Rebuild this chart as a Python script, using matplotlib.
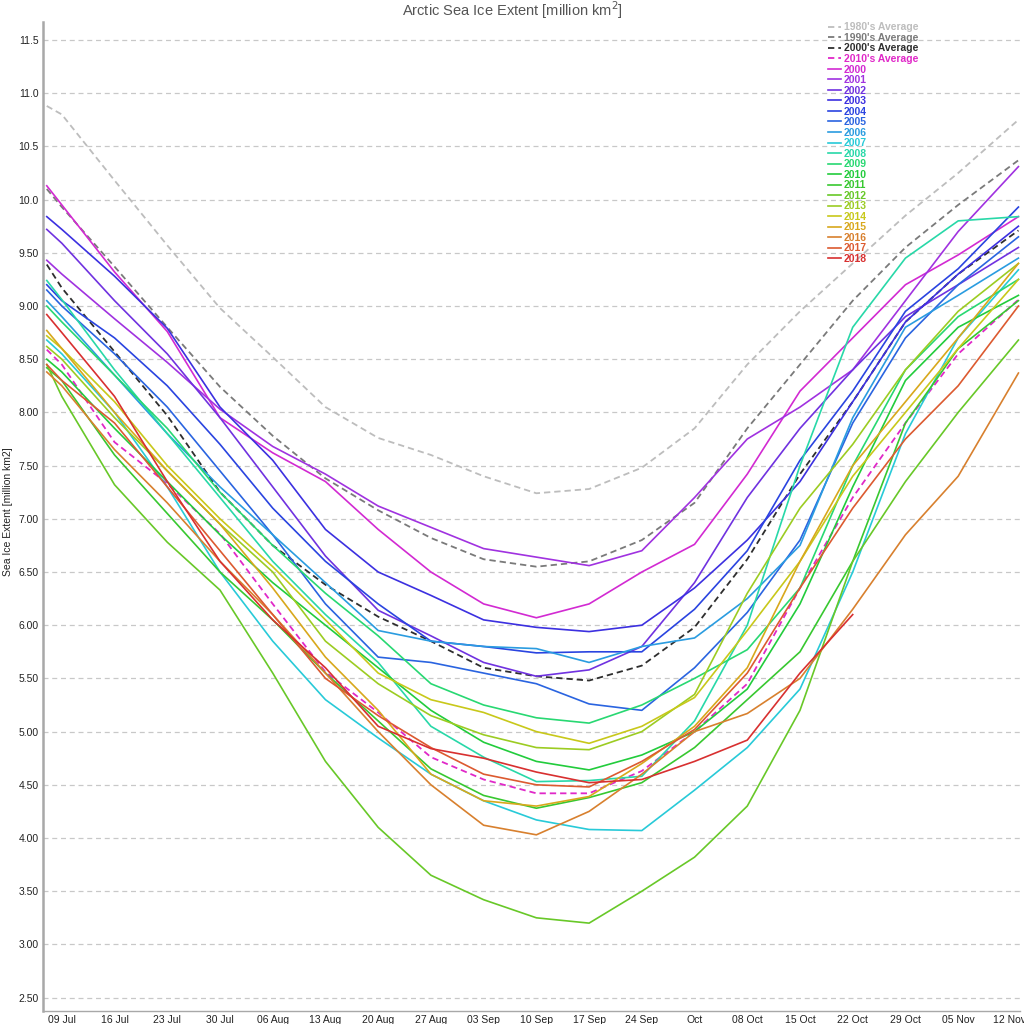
import numpy as np
import pandas as pd
import matplotlib
matplotlib.use('Agg')
import matplotlib.pyplot as plt
import matplotlib.transforms as mtransforms

plt.rcParams['font.family'] = ['Liberation Sans', 'DejaVu Sans']

# sample dates (weekly)
dates = pd.to_datetime(['2018-07-07', '2018-07-09', '2018-07-16', '2018-07-23', '2018-07-30',
                        '2018-08-06', '2018-08-13', '2018-08-20', '2018-08-27', '2018-09-03',
                        '2018-09-10', '2018-09-17', '2018-09-24', '2018-10-01', '2018-10-08',
                        '2018-10-15', '2018-10-22', '2018-10-29', '2018-11-05', '2018-11-13'])

avg1980 = [10.88, 10.80, 10.18, 9.57, 8.98, 8.52, 8.05, 7.76, 7.60, 7.40, 7.24, 7.28, 7.48, 7.85, 8.45, 8.95, 9.40, 9.85, 10.25, 10.75]
avg1990 = [10.10, 9.93, 9.37, 8.80, 8.24, 7.78, 7.38, 7.08, 6.82, 6.62, 6.55, 6.60, 6.80, 7.15, 7.85, 8.45, 9.05, 9.55, 9.95, 10.37]
avg2000 = [9.39, 9.17, 8.57, 7.97, 7.25, 6.75, 6.38, 6.08, 5.85, 5.60, 5.52, 5.48, 5.62, 5.98, 6.62, 7.42, 8.10, 8.85, 9.30, 9.71]
avg2010 = [8.59, 8.45, 7.72, 7.33, 6.86, 6.20, 5.56, 5.18, 4.76, 4.55, 4.42, 4.42, 4.63, 5.00, 5.45, 6.35, 7.20, 7.90, 8.55, 9.06]

y2000 = [10.13, 9.95, 9.32, 8.76, 7.95, 7.62, 7.35, 6.90, 6.50, 6.20, 6.07, 6.20, 6.50, 6.76, 7.42, 8.20, 8.70, 9.20, 9.48, 9.84]
y2001 = [9.43, 9.30, 8.88, 8.47, 8.03, 7.68, 7.42, 7.12, 6.92, 6.72, 6.64, 6.56, 6.70, 7.20, 7.75, 8.05, 8.40, 9.05, 9.70, 10.31]
y2002 = [9.72, 9.59, 9.05, 8.55, 7.95, 7.30, 6.65, 6.14, 5.90, 5.65, 5.52, 5.58, 5.80, 6.40, 7.20, 7.85, 8.40, 8.90, 9.20, 9.55]
y2003 = [9.84, 9.72, 9.28, 8.79, 8.05, 7.55, 6.90, 6.50, 6.28, 6.05, 5.98, 5.94, 6.00, 6.35, 6.80, 7.35, 8.10, 8.85, 9.30, 9.75]
y2004 = [9.20, 9.05, 8.70, 8.25, 7.70, 7.10, 6.60, 6.20, 5.85, 5.80, 5.74, 5.75, 5.75, 6.15, 6.70, 7.55, 8.20, 8.95, 9.35, 9.93]
y2005 = [9.15, 9.00, 8.55, 8.05, 7.45, 6.85, 6.20, 5.70, 5.65, 5.55, 5.45, 5.26, 5.20, 5.60, 6.12, 6.80, 7.90, 8.70, 9.20, 9.65]
y2006 = [9.05, 8.90, 8.35, 7.80, 7.30, 6.85, 6.40, 5.95, 5.85, 5.80, 5.78, 5.65, 5.80, 5.88, 6.25, 6.75, 7.95, 8.80, 9.10, 9.45]
y2007 = [8.68, 8.55, 8.00, 7.30, 6.50, 5.85, 5.30, 4.94, 4.60, 4.35, 4.17, 4.08, 4.07, 4.45, 4.85, 5.40, 6.50, 7.80, 8.70, 9.34]
y2008 = [9.24, 9.06, 8.40, 7.80, 7.20, 6.60, 6.10, 5.65, 5.05, 4.76, 4.53, 4.54, 4.58, 5.10, 6.00, 7.50, 8.80, 9.45, 9.80, 9.84]
y2009 = [9.00, 8.85, 8.35, 7.85, 7.25, 6.75, 6.30, 5.90, 5.45, 5.25, 5.13, 5.08, 5.25, 5.50, 5.77, 6.35, 7.50, 8.40, 8.90, 9.25]
y2010 = [8.50, 8.38, 7.85, 7.35, 6.85, 6.40, 6.00, 5.60, 5.20, 4.90, 4.72, 4.64, 4.78, 5.00, 5.40, 6.20, 7.30, 8.30, 8.80, 9.10]
y2011 = [8.42, 8.30, 7.60, 7.05, 6.50, 6.05, 5.55, 5.10, 4.65, 4.40, 4.28, 4.38, 4.52, 4.85, 5.30, 5.75, 6.60, 7.90, 8.60, 9.05]
y2012 = [8.45, 8.15, 7.32, 6.78, 6.33, 5.55, 4.72, 4.10, 3.65, 3.42, 3.25, 3.20, 3.50, 3.82, 4.30, 5.20, 6.60, 7.35, 8.00, 8.68]
y2013 = [8.62, 8.50, 7.95, 7.45, 6.95, 6.50, 5.85, 5.45, 5.15, 4.97, 4.85, 4.83, 5.00, 5.35, 6.30, 7.10, 7.70, 8.40, 8.95, 9.40]
y2014 = [8.72, 8.60, 8.10, 7.50, 7.00, 6.55, 6.05, 5.55, 5.30, 5.18, 5.00, 4.89, 5.05, 5.32, 5.95, 6.60, 7.40, 8.00, 8.60, 9.25]
y2015 = [8.77, 8.60, 8.00, 7.45, 6.95, 6.35, 5.70, 5.20, 4.60, 4.35, 4.30, 4.39, 4.70, 5.05, 5.60, 6.60, 7.50, 8.10, 8.70, 9.40]
y2016 = [8.38, 8.25, 7.65, 7.15, 6.60, 6.10, 5.55, 5.00, 4.50, 4.12, 4.03, 4.25, 4.60, 5.00, 5.17, 5.50, 6.15, 6.85, 7.40, 8.37]
y2017 = [8.45, 8.30, 7.90, 7.30, 6.70, 6.10, 5.50, 5.15, 4.85, 4.60, 4.50, 4.48, 4.72, 5.02, 5.55, 6.35, 7.10, 7.75, 8.25, 9.00]
y2018 = [8.92, 8.75, 8.15, 7.35, 6.60, 6.05, 5.60, 5.05, 4.84, 4.75, 4.62, 4.52, 4.55, 4.72, 4.92, 5.55, 6.10, np.nan, np.nan, np.nan]

avg_labels = ["1980's Average", "1990's Average", "2000's Average", "2010's Average"]
avg_series = [avg1980, avg1990, avg2000, avg2010]
avg_colors = ['#bdbdbd', '#7a7a7a', '#2e2e2e', '#e028c8']

year_labels = [str(y) for y in range(2000, 2019)]
year_series = [y2000, y2001, y2002, y2003, y2004, y2005, y2006, y2007, y2008, y2009,
               y2010, y2011, y2012, y2013, y2014, y2015, y2016, y2017, y2018]
year_colors = ['#d22ad2', '#a032e0', '#7032e0', '#3c30e0', '#2a44e0', '#2a64e0', '#2a9ce0',
               '#28cad8', '#28d8a8', '#28d872', '#22cc3c', '#38c830', '#68c828', '#9ccc22',
               '#c8c81a', '#d8a81c', '#d8802e', '#dc5a30', '#d83030']

tick_dates = pd.date_range('2018-07-09', '2018-11-12', freq='7D')
tick_labels = [d.strftime('%d %b') for d in tick_dates]
tick_labels[tick_labels.index('01 Oct')] = 'Oct'

fig = plt.figure(figsize=(10.24, 10.24), dpi=100)
ax = fig.add_axes([43/1024, 1 - 1010.7/1024, 977/1024, 989/1024])

for lab, s, c in zip(avg_labels, avg_series, avg_colors):
    ax.plot(dates, s, color=c, lw=1.3, ls=(0, (3.5, 2.2)), label=lab)
for lab, s, c in zip(year_labels, year_series, year_colors):
    ax.plot(dates, s, color=c, lw=1.2, label=lab)

ax.set_xlim(pd.Timestamp('2018-07-06 12:00'), pd.Timestamp('2018-11-13 05:00'))
ax.set_ylim(2.377, 11.672)

yt = np.arange(2.5, 11.51, 0.5)
ax.set_yticks(yt)
ax.set_yticklabels([f'{v:.2f}' if v < 10 else f'{v:.1f}' for v in yt], fontsize=7.5, color='#222222')
ax.set_xticks(tick_dates)
xl = ax.set_xticklabels(tick_labels, fontsize=7.5, color='#222222')
ax.tick_params(axis='both', length=0, pad=3)
# keep the last (12 Nov) label inside the figure
xl[-1].set_horizontalalignment('right')
xl[-1].set_transform(xl[-1].get_transform() + mtransforms.ScaledTranslation(15/100, 0, fig.dpi_scale_trans))

ax.grid(axis='y', color='#c8c8c8', ls=(0, (4, 3)), lw=0.9)
ax.set_axisbelow(True)
for side in ['top', 'right']:
    ax.spines[side].set_visible(False)
ax.spines['left'].set_color('#a8a8a8')
ax.spines['left'].set_linewidth(1.8)
ax.spines['bottom'].set_color('#a8a8a8')
ax.spines['bottom'].set_linewidth(1.0)

fig.text(0.5, 1 - 10/1024, 'Arctic Sea Ice Extent [million km$^2$]', ha='center', va='center',
         fontsize=10.5, color='#555555')
fig.text(8/1024, 0.5, 'Sea Ice Extent [million km2]', rotation=90, ha='center', va='center',
         fontsize=7.5, color='#222222')

leg = ax.legend(loc='upper left', bbox_to_anchor=(780/977, 1.0045), frameon=False,
                fontsize=7.5, handlelength=1.2, handletextpad=0.3, labelspacing=0.05,
                borderpad=0.0)
for txt, line in zip(leg.get_texts(), leg.get_lines()):
    txt.set_color(line.get_color())
    txt.set_fontweight('bold')

fig.savefig('out.png', dpi=100)
